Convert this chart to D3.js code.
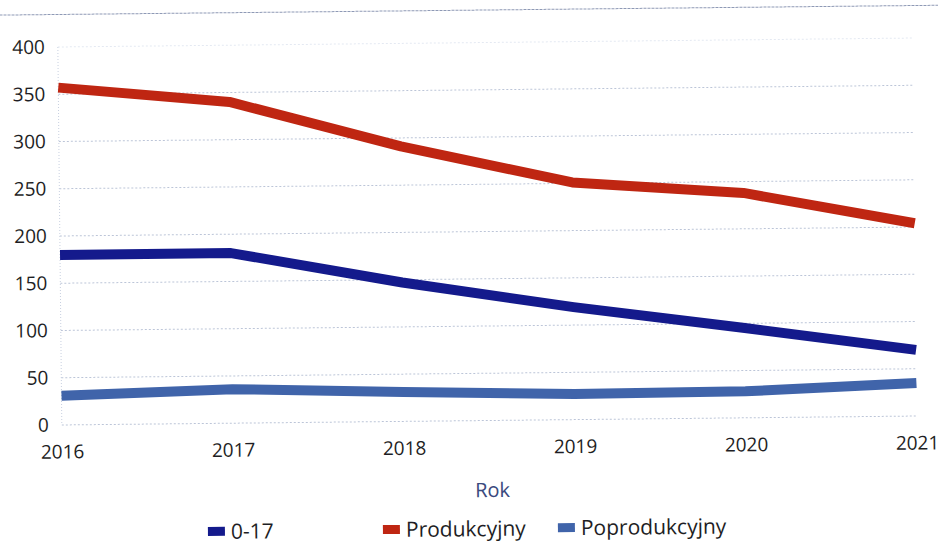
<!DOCTYPE html>
<html lang="pl">
<head>
<meta charset="utf-8">
<script src="https://d3js.org/d3.v7.min.js"></script>
<style>
  body { margin: 0; background: #fff; }
  svg { font-family: "Open Sans", "Noto Sans", sans-serif; }
</style>
</head>
<body>
<div id="chart"></div>
<script>
// data
var years = [2016, 2017, 2018, 2019, 2020, 2021];
var yTicks = [0, 50, 100, 150, 200, 250, 300, 350, 400];
var seriesNames = ["0-17", "Produkcyjny", "Poprodukcyjny"];
var kids = [180, 180, 147, 119, 95, 70];
var working = [357, 340, 291, 251, 238, 204];
var retired = [31, 36, 31, 27, 28, 35];
var colors = ["#141a8c", "#bf2612", "#4064aa"];

var W = 938, H = 545;
var margin = {top: 42.5, left: 60, right: 23, bottom: 124.5};

var svg = d3.select("#chart").append("svg")
    .attr("width", W)
    .attr("height", H);

// the scan is a little tilted, so the whole chart is too
var g = svg.append("g").attr("transform", "rotate(-0.6,488,250)");

// dashed rule at the very top of the page
g.append("line")
    .attr("x1", -10).attr("x2", W + 10)
    .attr("y1", 10).attr("y2", 10)
    .attr("stroke", "#8e99b5")
    .attr("stroke-width", 1)
    .attr("stroke-dasharray", "3,1");

var x = d3.scaleLinear()
    .domain([2016, 2021])
    .range([margin.left, W - margin.right]);

var y = d3.scaleLinear()
    .domain([0, 400])
    .range([H - margin.bottom, margin.top]);

// grid lines
g.append("g")
  .selectAll("line")
  .data(yTicks)
  .enter().append("line")
    .attr("x1", margin.left)
    .attr("x2", W - margin.right)
    .attr("y1", function(d) { return y(d); })
    .attr("y2", function(d) { return y(d); })
    .attr("stroke", function(d) { return d === 400 ? "#e4e9f2" : "#bcc5d8"; })
    .attr("stroke-width", 1)
    .attr("stroke-dasharray", "2,2");

// left dotted axis line
g.append("line")
    .attr("x1", margin.left).attr("x2", margin.left)
    .attr("y1", y(400)).attr("y2", y(0))
    .attr("stroke", "#c8d0e0")
    .attr("stroke-dasharray", "1,2");

// y axis labels
var yAxis = g.append("g")
    .attr("transform", "translate(" + (margin.left - 13) + ",0)")
    .call(d3.axisLeft(y).tickValues(yTicks).tickSize(0).tickPadding(0));
yAxis.select(".domain").remove();
yAxis.selectAll("text")
    .attr("font-size", "19px")
    .attr("font-family", "'Open Sans', sans-serif")
    .attr("fill", "#1e1e24");

// x axis labels
var xAxis = g.append("g")
    .attr("transform", "translate(0," + (y(0) + 20) + ")")
    .call(d3.axisBottom(x).tickValues(years).tickFormat(d3.format("d")).tickSize(0).tickPadding(0));
xAxis.select(".domain").remove();
xAxis.selectAll("text")
    .attr("font-size", "19px")
    .attr("font-family", "'Open Sans', sans-serif")
    .attr("fill", "#1e1e24");

// axis title
g.append("text")
    .attr("x", 490)
    .attr("y", 497)
    .attr("text-anchor", "middle")
    .attr("font-size", "20px")
    .attr("fill", "#3a4a7e")
    .text("Rok");

// lines
var line = d3.line()
    .x(function(d, i) { return x(years[i]); })
    .y(function(d) { return y(d); });

var allSeries = [kids, working, retired];
g.append("g")
  .selectAll("path")
  .data(allSeries)
  .enter().append("path")
    .attr("d", line)
    .attr("fill", "none")
    .attr("stroke", function(d, i) { return colors[i]; })
    .attr("stroke-width", 10)
    .attr("stroke-linejoin", "round");

// legend
var legendX = [205, 380, 555];
var legend = g.append("g")
  .selectAll("g")
  .data(seriesNames)
  .enter().append("g")
    .attr("transform", function(d, i) { return "translate(" + legendX[i] + ",536)"; });
legend.append("rect")
    .attr("x", 0).attr("y", -12)
    .attr("width", 17).attr("height", 9)
    .attr("fill", function(d, i) { return colors[i]; });
legend.append("text")
    .attr("x", 23)
    .attr("y", 0)
    .attr("font-size", "21px")
    .attr("fill", "#1e1e24")
    .text(function(d) { return d; });
</script>
</body>
</html>
